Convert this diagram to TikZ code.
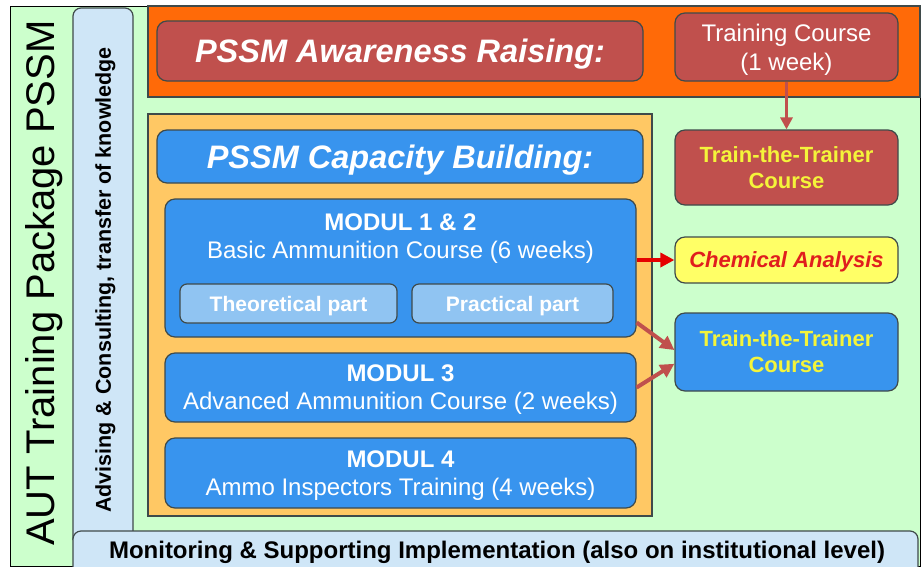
\documentclass[tikz,border=0pt]{standalone}
\usepackage{fontspec}
\setmainfont{Liberation Sans}
\usetikzlibrary{arrows.meta}
\definecolor{bggreen}{HTML}{CCFFCC}
\definecolor{stripblue}{HTML}{CFE6F7}
\definecolor{bandorange}{HTML}{FF6A08}
\definecolor{capaorange}{HTML}{FFC864}
\definecolor{boxred}{HTML}{C0504D}
\definecolor{boxblue}{HTML}{3894EE}
\definecolor{partblue}{HTML}{90C4F2}
\definecolor{chemyellow}{HTML}{FFFF66}
\definecolor{chemred}{HTML}{E01E1E}
\definecolor{tttyellow}{HTML}{F4F43A}
\definecolor{boxline}{HTML}{3F4A4A}
\tikzset{
  box/.style={draw=boxline, line width=1.2pt, rounded corners=10pt, inner sep=0pt, align=center, text depth=0pt},
  redbox/.style={box, fill=boxred, text=white},
  bluebox/.style={box, fill=boxblue, text=white},
  partbox/.style={box, fill=partblue, text=white, rounded corners=7pt, font=\fontsize{21}{24}\selectfont\bfseries},
  panel/.style={draw=boxline, line width=1.2pt},
  link/.style={line width=4pt, draw=boxred, -{Triangle[length=14pt,width=14pt]}},
}
\begin{document}
\begin{tikzpicture}[x=1pt, y=-1pt]
	\useasboundingbox (0,0) rectangle (924,566);
	% background panels
	\draw[fill=bggreen, draw=black, line width=.8pt] (10,6) rectangle (920,566);
	\draw[panel, fill=stripblue, rounded corners=8pt] (73,540) -- (73,8) -- (133,8) -- (133,540);
	\draw[panel, fill=stripblue, rounded corners=8pt] (73,570) -- (73,531) -- (918,531) -- (918,570);
	\draw[panel, fill=bandorange] (148,6) rectangle (920,97);
	\draw[panel, fill=capaorange] (148,114) rectangle (652,516);
	% side titles
	\node[rotate=90, text depth=0pt, font=\fontsize{40}{44}\selectfont] (title) at (40,283) {AUT Training Package PSSM};
	\node[rotate=90, text depth=0pt, font=\fontsize{21.5}{24}\selectfont\bfseries] (advise) at (103,280) {Advising \& Consulting, transfer of knowledge};
	\node[text depth=0pt, font=\fontsize{24}{28}\selectfont\bfseries] (monitor) at (497,550) {Monitoring \& Supporting Implementation (also on institutional level)};
	% awareness raising
	\node[redbox, minimum width=486, minimum height=60, font=\fontsize{32.5}{36}\selectfont\bfseries\itshape] (aware) at (400,51) {PSSM Awareness Raising:};
	\node[redbox, minimum width=223, minimum height=68, font=\fontsize{24}{29}\selectfont] (course) at (786.5,47) {Training Course\\(1 week)};
	\node[redbox, text=tttyellow, minimum width=223, minimum height=75, font=\fontsize{22}{26}\selectfont\bfseries] (tttred) at (786.5,167.5) {Train-the-Trainer\\Course};
	% capacity building
	\node[bluebox, minimum width=486, minimum height=53, font=\fontsize{32.5}{36}\selectfont\bfseries\itshape] (capa) at (400,156.5) {PSSM Capacity Building:};
	\node[bluebox, minimum width=471, minimum height=138] (mod12) at (400.5,268) {};
	\node[text=white, align=center, text depth=0pt, font=\fontsize{24}{28}\selectfont] (mod12txt) at (400.5,236) {\textbf{MODUL 1 \& 2}\\Basic Ammunition Course (6 weeks)};
	\node[partbox, minimum width=217, minimum height=39] (theo) at (288.5,303.5) {Theoretical part};
	\node[partbox, minimum width=201, minimum height=39] (prac) at (512.5,303.5) {Practical part};
	\node[bluebox, minimum width=471, minimum height=69, font=\fontsize{24}{28}\selectfont] (mod3) at (400.5,387.5) {\textbf{MODUL 3}\\Advanced Ammunition Course (2 weeks)};
	\node[bluebox, minimum width=471, minimum height=70, font=\fontsize{24}{28}\selectfont] (mod4) at (400.5,473) {\textbf{MODUL 4}\\Ammo Inspectors Training (4 weeks)};
	% results
	\node[box, fill=chemyellow, text=chemred, minimum width=223, minimum height=46, font=\fontsize{22}{26}\selectfont\bfseries\itshape] (chem) at (786.5,260) {Chemical Analysis};
	\node[bluebox, text=tttyellow, minimum width=223, minimum height=78, font=\fontsize{22}{26}\selectfont\bfseries] (tttblue) at (786.5,352) {Train-the-Trainer\\Course};
	% arrows
	\draw[link, line width=3pt, -{Triangle[length=12pt,width=12pt]}] (course) -- (tttred);
	\draw[link, draw=red!90!black] (chem.west -| mod12.east) -- (chem.west);
	\draw[link] (mod12.-13) -- (tttblue.179);
	\draw[link] (mod3.east) -- (tttblue.186);
\end{tikzpicture}
\end{document}
